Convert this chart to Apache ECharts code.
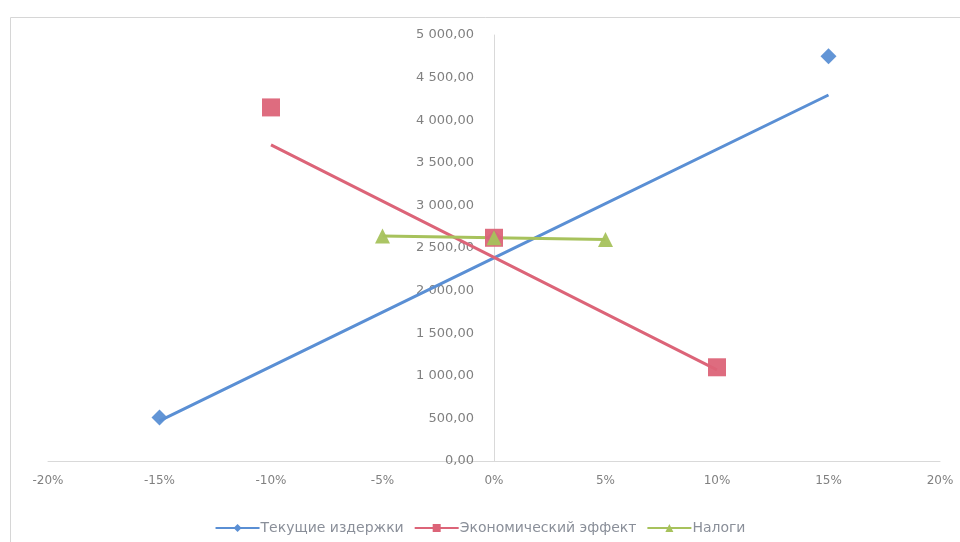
<!DOCTYPE html>
<html>
<head>
<meta charset="utf-8">
<script src="https://cdn.jsdelivr.net/npm/echarts@6/dist/echarts.min.js"></script>
<style>
html,body{margin:0;padding:0;background:#fff;}
#chart{width:960px;height:542px;}
</style>
</head>
<body>
<div id="chart"></div>
<script>
// Sensitivity of results to a change of the parameter, %
const seriesNames = ['Текущие издержки', 'Экономический эффект', 'Налоги'];

const costsX = [-15, 0, 15];
const costsPoints = [510, 2620, 4750];
const costsLine = [470, 2383, 4296];

const effectX = [-10, 0, 10];
const effectPoints = [4150, 2620, 1100];
const effectLine = [3710, 2390, 1070];

const taxX = [-5, 0, 5];
const taxPoints = [2640, 2620, 2600];
const taxLine = [2640, 2620, 2600];

const colors = ['#5a8fd4', '#dc6478', '#a7c25c'];
const symbols = ['diamond', 'rect', 'triangle'];
const symbolSizes = [16, 18, 15];

const pairs = (xs, ys) => xs.map((x, i) => [x, ys[i]]);

function fmtNum(v) {
  const parts = v.toFixed(2).split('.');
  return parts[0].replace(/\B(?=(\d{3})+(?!\d))/g, ' ') + ',' + parts[1];
}

const lineData = [pairs(costsX, costsLine), pairs(effectX, effectLine), pairs(taxX, taxLine)];
const pointData = [pairs(costsX, costsPoints), pairs(effectX, effectPoints), pairs(taxX, taxPoints)];

const series = [];
seriesNames.forEach((name, i) => {
  series.push({
    name: name,
    type: 'line',
    data: lineData[i],
    symbol: symbols[i],
    symbolSize: 9,
    showSymbol: false,
    lineStyle: { color: colors[i], width: 3 },
    itemStyle: { color: colors[i] },
    z: 2
  });
});
seriesNames.forEach((name, i) => {
  series.push({
    name: name,
    type: 'scatter',
    data: pointData[i],
    symbol: symbols[i],
    symbolSize: symbolSizes[i],
    itemStyle: { color: colors[i], opacity: 0.95 },
    z: 3
  });
});

// plot spans 48..940 px, so the value axis sits half of that width inside
const plotLeft = 48, plotRight = 20;
const halfPlot = (960 - plotLeft - plotRight) / 2;

const chart = echarts.init(document.getElementById('chart'));
chart.setOption({
  backgroundColor: '#ffffff',
  animation: false,
  color: colors,
  graphic: [{
    type: 'rect',
    shape: { x: 10.5, y: 17.5, width: 960, height: 540 },
    style: { fill: 'none', stroke: '#d6d6d6', lineWidth: 1 },
    silent: true
  }],
  grid: { left: plotLeft, right: plotRight, top: 35, bottom: 81, containLabel: false, outerBoundsMode: 'none' },
  xAxis: {
    type: 'value',
    min: -20, max: 20, interval: 5,
    axisLine: { onZero: true, lineStyle: { color: '#d9d9d9', width: 1 } },
    axisTick: { show: false },
    splitLine: { show: false },
    axisLabel: {
      formatter: v => Math.round(v) + '%',
      color: '#808080', fontSize: 12, fontFamily: 'DejaVu Sans', margin: 14
    }
  },
  yAxis: {
    type: 'value',
    min: 0, max: 5000, interval: 500,
    offset: -halfPlot,
    axisLine: { show: true, onZero: false, lineStyle: { color: '#d9d9d9', width: 1 } },
    axisTick: { show: false },
    splitLine: { show: false },
    axisLabel: {
      formatter: v => fmtNum(v),
      color: '#808080', fontSize: 13, fontFamily: 'DejaVu Sans', margin: 20
    }
  },
  legend: {
    data: seriesNames,
    bottom: 2,
    left: 'center',
    itemWidth: 44,
    itemHeight: 10,
    itemGap: 10,
    textStyle: { color: '#8a8f99', fontSize: 14, fontFamily: 'DejaVu Sans', padding: [0, 0, 0, -4] }
  },
  series: series
});
</script>
</body>
</html>
